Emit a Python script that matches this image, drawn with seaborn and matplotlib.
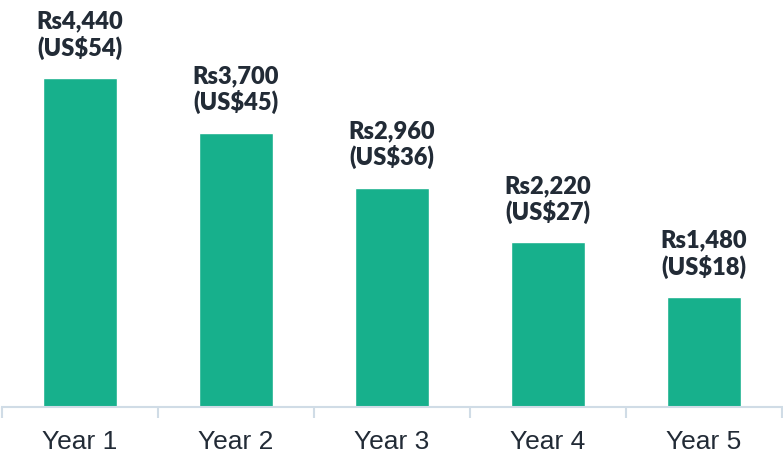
import numpy as np
import pandas as pd
import matplotlib
matplotlib.use('Agg')
import matplotlib.pyplot as plt
import seaborn as sns

# data
years = ['Year 1', 'Year 2', 'Year 3', 'Year 4', 'Year 5']
rupees = [4440, 3700, 2960, 2220, 1480]
usd = [54, 45, 36, 27, 18]

df = pd.DataFrame({'year': years, 'rs': rupees, 'usd': usd})

sns.set_style('white')
plt.rcParams['font.family'] = ['Liberation Sans', 'DejaVu Sans']

bar_col = '#17B08C'
txt_col = '#222B36'
axis_col = '#D0DCE6'

fig = plt.figure(figsize=(7.83, 4.56), dpi=100)
ax = fig.add_axes([2/783, 48/456, 780/783, 408/456])

sns.barplot(data=df, x='year', y='rs', color=bar_col, width=0.47,
            saturation=1, ax=ax)

ax.set_xlim(-0.5, 4.5)
ax.set_ylim(0, 5506)

for i, row in df.iterrows():
    lbl = 'Rs{:,}\n(US${})'.format(row['rs'], row['usd'])
    ax.annotate(lbl, (i, row['rs']), xytext=(0, 14), textcoords='offset points',
                ha='center', va='bottom', fontsize=17, fontweight='heavy',
                family=['Lato', 'DejaVu Sans'], color=txt_col, linespacing=1.15)

ax.set_xlabel('')
ax.set_ylabel('')
ax.set_yticks([])
for s in ['top', 'right', 'left']:
    ax.spines[s].set_visible(False)
ax.spines['bottom'].set_color(axis_col)
ax.spines['bottom'].set_linewidth(1.5)

ax.set_xticks(np.arange(-0.5, 5, 1), minor=True)
ax.tick_params(axis='x', which='minor', bottom=True, length=8, width=1.5,
               color=axis_col, direction='out')
ax.tick_params(axis='x', which='major', bottom=True, length=0, labelsize=19,
               labelcolor=txt_col, pad=16)

fig.savefig('out.png', dpi=100)
